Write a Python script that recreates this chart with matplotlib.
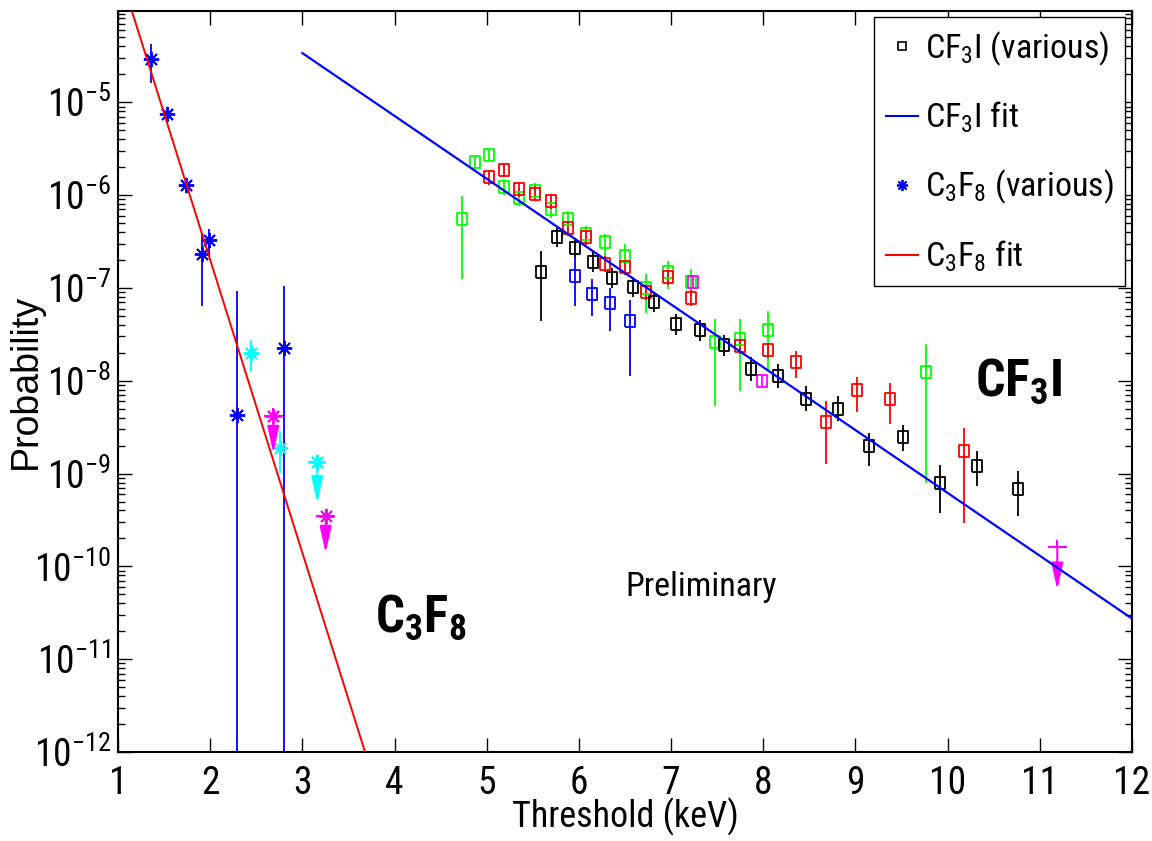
import numpy as np
import matplotlib
matplotlib.use("Agg")
import matplotlib.pyplot as plt
from matplotlib.lines import Line2D
from matplotlib.ticker import FixedLocator, NullFormatter, LogFormatterSciNotation
from matplotlib import font_manager

# pick a narrow sans font if one is installed, otherwise Liberation Sans at smaller sizes
_names = {f.name for f in font_manager.fontManager.ttflist}
NARROW = None
for cand in ['Liberation Sans Narrow', 'Arial Narrow', 'Nimbus Sans Narrow', 'Roboto Condensed',
             'Open Sans Condensed']:
    if cand in _names:
        NARROW = cand
        break
BASE = NARROW if NARROW else 'Liberation Sans'
SC = 1.0 if NARROW else 0.82

plt.rcParams['font.family'] = [BASE, 'DejaVu Sans']
plt.rcParams['mathtext.fontset'] = 'custom'
plt.rcParams['mathtext.rm'] = BASE
plt.rcParams['mathtext.it'] = BASE + ':italic'
plt.rcParams['mathtext.bf'] = BASE + ':bold'
plt.rcParams['mathtext.sf'] = BASE

# ---------------- data ----------------
# CF3I, green series
g_x = [4.73, 4.87, 5.03, 5.19, 5.35, 5.52, 5.70, 5.88, 6.08, 6.28, 6.50, 6.73, 6.97, 7.22, 7.48, 7.75, 8.05, 9.77]
g_y = [5.5e-7, 2.3e-6, 2.7e-6, 1.22e-6, 9.4e-7, 1.1e-6, 7.0e-7, 5.5e-7, 3.85e-7, 3.1e-7, 2.2e-7, 1.0e-7, 1.5e-7, 1.15e-7, 2.6e-8, 2.8e-8, 3.5e-8, 1.25e-8]
g_lo = [1.24e-7, 2.0e-6, 2.35e-6, 1.0e-6, 7.7e-7, 8.9e-7, 5.7e-7, 4.5e-7, 3.2e-7, 2.13e-7, 1.79e-7, 5.4e-8, 9.8e-8, 8.2e-8, 5.4e-9, 7.7e-9, 1.32e-8, 7.9e-10]
g_hi = [9.7e-7, 2.6e-6, 3.1e-6, 1.5e-6, 1.15e-6, 1.35e-6, 8.6e-7, 6.7e-7, 4.6e-7, 3.78e-7, 2.94e-7, 1.4e-7, 1.95e-7, 1.58e-7, 4.6e-8, 4.65e-8, 5.6e-8, 2.46e-8]

# CF3I, red series
r_x = [5.03, 5.19, 5.35, 5.52, 5.70, 5.88, 6.08, 6.28, 6.50, 6.73, 6.97, 7.22, 7.75, 8.05, 8.36, 8.68, 9.02, 9.38, 10.18]
r_y = [1.55e-6, 1.85e-6, 1.16e-6, 1.04e-6, 8.6e-7, 4.4e-7, 3.5e-7, 1.82e-7, 1.67e-7, 9.0e-8, 1.3e-7, 7.8e-8, 2.35e-8, 2.13e-8, 1.6e-8, 3.56e-9, 7.9e-9, 6.4e-9, 1.73e-9]
r_lo = [1.28e-6, 1.55e-6, 9.6e-7, 8.6e-7, 7.1e-7, 3.65e-7, 2.9e-7, 1.5e-7, 1.38e-7, 7.4e-8, 1.08e-7, 6.4e-8, 1.95e-8, 1.77e-8, 1.07e-8, 1.28e-9, 4.57e-9, 3.45e-9, 2.9e-10]
r_hi = [1.85e-6, 2.2e-6, 1.4e-6, 1.25e-6, 1.04e-6, 5.3e-7, 4.2e-7, 2.2e-7, 2.0e-7, 1.08e-7, 1.56e-7, 9.4e-8, 2.8e-8, 2.55e-8, 2.08e-8, 6.0e-9, 1.1e-8, 9.5e-9, 3.1e-9]

# CF3I, black series
k_x = [5.585, 5.765, 5.957, 6.155, 6.361, 6.582, 6.817, 7.052, 7.312, 7.576, 7.862, 8.155, 8.465, 8.806, 9.149, 9.517, 9.915, 10.324, 10.765]
k_y = [1.5e-7, 3.5e-7, 2.7e-7, 1.92e-7, 1.29e-7, 1.02e-7, 7.1e-8, 4.04e-8, 3.48e-8, 2.4e-8, 1.34e-8, 1.12e-8, 6.4e-9, 5.0e-9, 1.96e-9, 2.5e-9, 8.0e-10, 1.22e-9, 6.9e-10]
k_lo = [4.4e-8, 2.75e-7, 2.1e-7, 1.5e-7, 1.0e-7, 7.9e-8, 5.5e-8, 3.1e-8, 2.7e-8, 1.85e-8, 1.0e-8, 8.4e-9, 4.7e-9, 3.7e-9, 1.22e-9, 1.74e-9, 3.8e-10, 7.4e-10, 3.5e-10]
k_hi = [2.5e-7, 4.45e-7, 3.45e-7, 2.45e-7, 1.65e-7, 1.3e-7, 9.1e-8, 5.2e-8, 4.5e-8, 3.1e-8, 1.8e-8, 1.5e-8, 8.7e-9, 6.8e-9, 2.74e-9, 3.3e-9, 1.25e-9, 1.74e-9, 1.06e-9]

# CF3I, blue series
b_x = [5.957, 6.144, 6.339, 6.553]
b_y = [1.34e-7, 8.65e-8, 6.9e-8, 4.4e-8]
b_lo = [6.4e-8, 5.0e-8, 3.4e-8, 1.12e-8]
b_hi = [2.1e-7, 1.24e-7, 1.0e-7, 7.5e-8]

# CF3I, magenta series
m_x = [7.24, 7.99]
m_y = [1.17e-7, 9.9e-9]
m_lo = [1.0e-7, 8.5e-9]
m_hi = [1.35e-7, 1.15e-8]

# CF3I upper limit (magenta)
cul_x = [11.19]
cul_y = [1.6e-10]
cul_tip = [5.6e-11]

# C3F8, blue stars
s_x = [1.355, 1.528, 1.738, 1.914, 1.99, 2.294, 2.80]
s_y = [2.9e-5, 7.4e-6, 1.29e-6, 2.3e-7, 3.3e-7, 4.3e-9, 2.26e-8]
s_lo = [1.63e-5, 7.4e-6, 1.29e-6, 6.4e-8, 2.2e-7, 1e-14, 1e-14]
s_hi = [4.24e-5, 7.4e-6, 1.29e-6, 3.9e-7, 4.3e-7, 9.2e-8, 1.05e-7]

# C3F8, cyan stars
c_x = [2.439, 2.757]
c_y = [2.0e-8, 1.9e-9]
c_lo = [1.23e-8, 1.02e-9]
c_hi = [2.75e-8, 2.85e-9]

# C3F8 upper limits
cyl_x = [3.162]
cyl_y = [1.32e-9]
cyl_tip = [4.8e-10]
mgl_x = [2.685, 3.253]
mgl_y = [4.2e-9, 3.5e-10]
mgl_tip = [1.66e-9, 1.39e-10]

# fits
cf3i_fit_x = [3.0, 12.0]
cf3i_fit_y = [3.39e-5, 2.74e-11]
c3f8_fit_x = [1.0, 3.8]
c3f8_fit_y = [2.88e-4, 4.2e-13]

x_ticks = [1, 2, 3, 4, 5, 6, 7, 8, 9, 10, 11, 12]
y_decades = [-12, -11, -10, -9, -8, -7, -6, -5]

# ---------------- plot ----------------
fig = plt.figure(figsize=(11.52, 8.41), dpi=100)
ax = fig.add_axes([0.1024, 0.1058, 0.8802, 0.8815])
ax.set_yscale('log')

rect = [(-0.75, -1), (0.75, -1), (0.75, 1), (-0.75, 1), (-0.75, -1)]
GREEN = (0, 1, 0); RED = (1, 0, 0); BLUE = (0, 0, 1); MAG = (1, 0, 1); CYAN = (0, 1, 1)
ELW = 1.3


def sq_series(x, y, lo, hi, col):
    ax.vlines(x, lo, hi, color=col, lw=ELW, zorder=2)
    ax.plot(x, y, ls='none', marker=rect, ms=9, mfc='none', mec=col, mew=1.3, zorder=3)


sq_series(g_x, g_y, g_lo, g_hi, GREEN)
sq_series(m_x, m_y, m_lo, m_hi, MAG)
sq_series(r_x, r_y, r_lo, r_hi, RED)
sq_series(k_x, k_y, k_lo, k_hi, 'black')
sq_series(b_x, b_y, b_lo, b_hi, BLUE)

star = (8, 2, 0)


def star_series(x, y, lo, hi, col):
    ax.vlines(x, lo, hi, color=col, lw=ELW, zorder=2)
    ax.plot(x, y, ls='none', marker=star, ms=11, mec=col, mew=1.4, color=col, zorder=3)


star_series(s_x, s_y, s_lo, s_hi, BLUE)
star_series(c_x, c_y, c_lo, c_hi, CYAN)


def upper_limits(x, y, tip, col, with_star=True):
    for xi, yi, ti in zip(x, y, tip):
        ax.hlines(yi, xi - 0.1, xi + 0.1, color=col, lw=1.5, zorder=3)
        ax.vlines(xi, yi, yi * 1.2, color=col, lw=1.5, zorder=3)
        ax.annotate('', xy=(xi, ti), xytext=(xi, yi),
                    arrowprops=dict(arrowstyle='-|>,head_width=0.2,head_length=0.9',
                                    color=col, lw=1.5, shrinkA=0, shrinkB=0,
                                    mutation_scale=18), zorder=3)
        if with_star:
            ax.plot([xi], [yi], ls='none', marker=star, ms=11, mec=col, mew=1.4, zorder=4)


upper_limits(cyl_x, cyl_y, cyl_tip, CYAN)
upper_limits(mgl_x, mgl_y, mgl_tip, MAG)
upper_limits(cul_x, cul_y, cul_tip, MAG, with_star=False)

ax.plot(cf3i_fit_x, cf3i_fit_y, color=BLUE, lw=1.6, zorder=5)
ax.plot(c3f8_fit_x, c3f8_fit_y, color=RED, lw=1.4, zorder=5)

ax.set_xlim(1, 12)
ax.set_ylim(1e-12, 0.97e-4)
ax.xaxis.set_major_locator(FixedLocator(x_ticks))
ax.set_xticklabels([str(t) for t in x_ticks])
major_y = [10.0 ** d for d in y_decades]
minor_y = [m * 10.0 ** d for d in y_decades for m in range(2, 10) if m * 10.0 ** d < 0.97e-4]
ax.yaxis.set_major_locator(FixedLocator(major_y))
ax.yaxis.set_major_formatter(LogFormatterSciNotation())
ax.yaxis.set_minor_locator(FixedLocator(minor_y))
ax.yaxis.set_minor_formatter(NullFormatter())
ax.tick_params(which='both', direction='in', top=True, right=True, width=1.0)
ax.tick_params(which='major', length=10, labelsize=27 * SC)
ax.tick_params(which='minor', length=5)
ax.tick_params(axis='x', pad=9)
ax.tick_params(axis='y', pad=5)
for s in ax.spines.values():
    s.set_linewidth(1.5)

ax.set_xlabel('Threshold (keV)', fontsize=26 * SC)
ax.xaxis.set_label_coords(0.5, -0.062)
ax.set_ylabel('Probability', fontsize=27, family=['Liberation Sans', 'DejaVu Sans'])
ax.yaxis.set_label_coords(-0.073, 0.5)

ax.text(10.3, 6.8e-9, r'CF$_\mathbf{3}$I', fontsize=39 * SC * 0.96, fontweight='bold',
        ha='left', va='baseline')
ax.text(3.79, 1.95e-11, r'C$_\mathbf{3}$F$_\mathbf{8}$', fontsize=39 * SC * 0.94, fontweight='bold',
        ha='left', va='baseline')
ax.text(6.50, 4.85e-11, 'Preliminary', fontsize=24.5 * SC, ha='left', va='baseline')

handles = [
    Line2D([], [], ls='none', marker='s', ms=6, mfc='none', mec='black', mew=1.2),
    Line2D([], [], color=BLUE, lw=1.5),
    Line2D([], [], ls='none', marker=star, ms=8, mec=BLUE, mew=1.3),
    Line2D([], [], color=RED, lw=1.5),
]
labels = [r'CF$_3$I (various)', r'CF$_3$I fit', r'C$_3$F$_8$ (various)', r'C$_3$F$_8$ fit']
leg = ax.legend(handles, labels, loc='upper right', fontsize=24.5 * SC, frameon=True, fancybox=False,
                edgecolor='black', framealpha=1, handlelength=0.95, handletextpad=0.2,
                labelspacing=0.95, borderaxespad=0.2, borderpad=0.35)
leg.get_frame().set_linewidth(1.0)

fig.savefig('out.png', dpi=100)
